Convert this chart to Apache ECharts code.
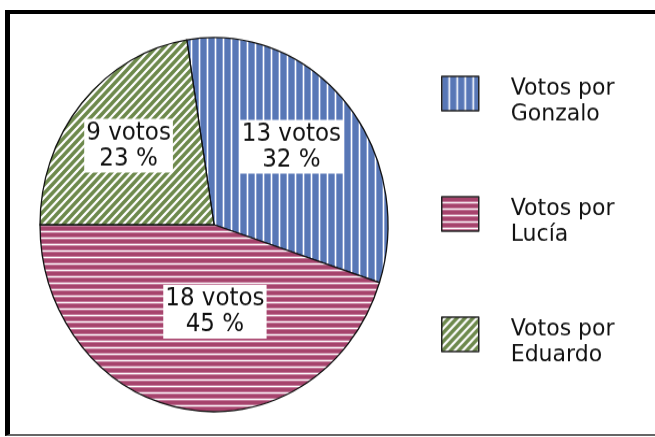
<!DOCTYPE html>
<html>
<head>
<meta charset="utf-8">
<script src="https://cdn.jsdelivr.net/npm/echarts@6/dist/echarts.min.js"></script>
<style>
  html, body { margin: 0; padding: 0; background: #fff; }
  #frame {
    position: absolute; left: 5px; top: 10px; width: 700px; height: 420px;
    border-left: 5px solid #000; border-top: 4px solid #000; border-bottom: 2px solid #666;
  }
  /* the source picture is stretched vertically a little, so is this one */
  #chart {
    position: absolute; left: 0; top: 0; width: 655px; height: 407px;
    transform: scaleY(1.075); transform-origin: 0 0;
  }
</style>
</head>
<body>
<div id="frame"></div>
<div id="chart"></div>
<script>
// data
const categories = ['Votos por\nGonzalo', 'Votos por\nLucía', 'Votos por\nEduardo'];
const votes = [13, 18, 9];
const percents = [32, 45, 23];

// label nudges (px) so they sit where the original puts them
const labelOffsets = [[9, -14], [15, -8], [-17, -15]];

// small repeating canvas fills for the hatched slices
function makePattern(kind) {
  const c = document.createElement('canvas');
  const ctx = c.getContext('2d');
  if (kind === 'vertical') {
    c.width = 8; c.height = 8;
    ctx.fillStyle = '#fff'; ctx.fillRect(0, 0, 8, 8);
    ctx.fillStyle = '#8ea3d2'; ctx.fillRect(0, 0, 1, 8); ctx.fillRect(6, 0, 1, 8);
    ctx.fillStyle = '#5877b6'; ctx.fillRect(1, 0, 5, 8);
  } else if (kind === 'horizontal') {
    c.width = 8; c.height = 6;
    ctx.fillStyle = '#fff'; ctx.fillRect(0, 0, 8, 6);
    ctx.fillStyle = '#c47a9b'; ctx.fillRect(0, 0, 8, 1); ctx.fillRect(0, 4, 8, 1);
    ctx.fillStyle = '#a6436c'; ctx.fillRect(0, 1, 8, 3);
  } else {
    c.width = 8; c.height = 8;
    ctx.fillStyle = '#fff'; ctx.fillRect(0, 0, 8, 8);
    ctx.strokeStyle = '#6d894c'; ctx.lineWidth = 3.4;
    ctx.beginPath();
    ctx.moveTo(-2, 10); ctx.lineTo(10, -2);
    ctx.moveTo(-6, 6); ctx.lineTo(6, -6);
    ctx.moveTo(2, 14); ctx.lineTo(14, 2);
    ctx.stroke();
  }
  return { image: c, repeat: 'repeat' };
}

const fills = [makePattern('vertical'), makePattern('horizontal'), makePattern('diagonal')];

const chart = echarts.init(document.getElementById('chart'), null, { renderer: 'canvas' });

chart.setOption({
  backgroundColor: 'transparent',
  animation: false,
  textStyle: { fontFamily: 'DejaVu Sans' },
  legend: {
    orient: 'vertical',
    left: 436,
    top: 51,
    itemWidth: 37,
    itemHeight: 32,
    itemGap: 50,
    icon: 'rect',
    itemStyle: { borderColor: '#222', borderWidth: 1.5 },
    // a short empty first line pushes the text a bit below the key box
    formatter: (name) => `{gap| }\n{t|${name.split('\n').join('}\n{t|')}}`,
    textStyle: {
      fontFamily: 'DejaVu Sans',
      fontSize: 22,
      lineHeight: 24,
      color: '#111',
      padding: [0, 0, 0, 27],
      rich: {
        gap: { fontSize: 8, lineHeight: 14 },
        t: { fontFamily: 'DejaVu Sans', fontSize: 22, lineHeight: 24, color: '#111' }
      }
    },
    data: categories
  },
  series: [
    {
      type: 'pie',
      center: [214, 209],
      radius: 174,
      startAngle: 99,
      clockwise: true,
      silent: true,
      itemStyle: { borderColor: '#111', borderWidth: 1.3 },
      label: {
        show: true,
        position: 'inside',
        fontFamily: 'DejaVu Sans',
        fontSize: 23,
        lineHeight: 24,
        color: '#111',
        backgroundColor: '#fff',
        padding: [1, 2],
        formatter: (p) => `${p.value} votos\n${percents[p.dataIndex]} %`
      },
      labelLine: { show: false },
      data: categories.map((name, i) => ({
        name: name,
        value: votes[i],
        itemStyle: { color: fills[i] },
        label: { offset: labelOffsets[i] }
      }))
    }
  ]
});
</script>
</body>
</html>
